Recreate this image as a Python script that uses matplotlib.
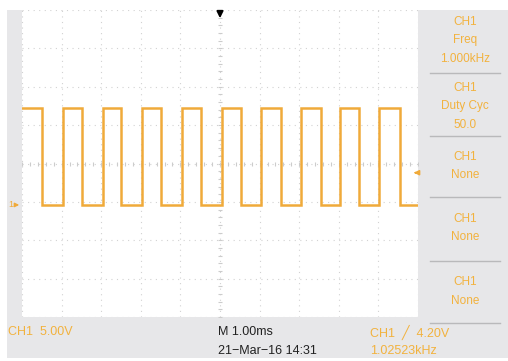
import numpy as np
import matplotlib
matplotlib.use("Agg")
import matplotlib.pyplot as plt

# ---- values ----
rise_ms = [0.0, 1.04, 2.05, 3.03, 4.04, 5.05, 6.04, 7.05, 8.03, 9.02]
fall_ms = [0.51, 1.52, 2.50, 3.51, 4.52, 5.53, 6.54, 7.55, 8.51, 9.55]
high_v = 12.6
low_v = 0.0
trig_v = 4.20
volts_per_div = 5.0
ms_per_div = 1.0
ground_div = -1.08  # ground marker position relative to screen centre

menu_items = [
    ["CH1", "Freq", "1.000kHz"],
    ["CH1", "Duty Cyc", "50.0"],
    ["CH1", "None"],
    ["CH1", "None"],
    ["CH1", "None"],
]
status_left = "CH1  5.00V"
status_mid = ["M 1.00ms", "21\u2212Mar\u221216 14:31"]
status_right = ["CH1  \u2571  4.20V", "1.02523kHz"]

TRACE = "#f0aa3a"
TXT_OR = "#f2b23e"
GRAY = "#e7e7e9"

W, H = 508, 361
fig = plt.figure(figsize=(W / 100, H / 100), dpi=100)
fig.patch.set_facecolor("white")
plt.rcParams["font.family"] = ["Liberation Sans", "DejaVu Sans"]

# background canvas in pixel coordinates
bg = fig.add_axes([0, 0, 1, 1])
bg.set_xlim(0, W)
bg.set_ylim(H, 0)
bg.axis("off")
bg.add_patch(plt.Rectangle((7, 10), W - 7, 348, color=GRAY, lw=0))

# menu panel on the right
sep_y = [73, 136, 197, 261, 323]
for y in sep_y:
    bg.plot([430, 500], [y, y], color="#b9b9bb", lw=1)
tops = [22, 88, 157, 219, 282]
for top, lines in zip(tops, menu_items):
    for k, s in enumerate(lines):
        bg.text(465, top + k * 18.5, s, color=TXT_OR, fontsize=8.5,
                ha="center", va="center")

# status bar
bg.text(8, 332, status_left, color=TXT_OR, fontsize=9, va="center")
bg.text(218, 332, status_mid[0], color="#222222", fontsize=9, va="center")
bg.text(218, 351, status_mid[1], color="#222222", fontsize=9, va="center")
bg.text(370, 332, status_right[0], color=TXT_OR, fontsize=9, va="center")
bg.text(370, 351, status_right[1], color=TXT_OR, fontsize=9, va="center")

# graticule axes
x0, x1, y0, y1 = 22, 418, 10, 317
ax = fig.add_axes([x0 / W, 1 - y1 / H, (x1 - x0) / W, (y1 - y0) / H])
ax.set_facecolor("white")
ax.set_xlim(0, 10 * ms_per_div)
ax.set_ylim(-(4 + ground_div) * volts_per_div, (4 - ground_div) * volts_per_div)
for s in ax.spines.values():
    s.set_visible(False)
ax.set_xticks([])
ax.set_yticks([])

gy = [(d - ground_div) * volts_per_div for d in range(-4, 5)]
for i in range(11):
    ax.axvline(i * ms_per_div, color="#d2d2d2", lw=0.8, ls=(0, (1, 4)))
for v in gy:
    ax.axhline(v, color="#d2d2d2", lw=0.8, ls=(0, (1, 4)))
# centre-line minor ticks
cy = -ground_div * volts_per_div
minor_x = np.arange(0, 10.01, 0.2)
ax.plot(minor_x, [cy] * len(minor_x), ls="none", marker="|", ms=3,
        color="#cccccc", mew=0.8)
minor_y = np.arange(gy[0], gy[-1] + 0.01, 1.0)
ax.plot([5] * len(minor_y), minor_y, ls="none", marker="_", ms=3,
        color="#cccccc", mew=0.8)

# square wave built from the read edge times
t = [0.0]
v = [high_v]
for r, f in zip(rise_ms, fall_ms):
    t += [r, r, f, f]
    v += [low_v, high_v, high_v, low_v]
t = t[2:]
v = v[2:]
t.append(10 * ms_per_div)
v.append(low_v)
ax.plot(t, v, color=TRACE, lw=1.8, solid_joinstyle="miter")

# markers on top of everything
top = fig.add_axes([0, 0, 1, 1])
top.set_xlim(0, W)
top.set_ylim(H, 0)
top.axis("off")
top.patch.set_alpha(0)
gnd_px = y0 + (4 - ground_div) * (y1 - y0) / 8
trig_px = gnd_px - trig_v / volts_per_div * (y1 - y0) / 8
top.text(8, gnd_px, "1", color=TRACE, fontsize=6.5, va="center")
top.annotate("", xy=(22, gnd_px), xytext=(13, gnd_px),
             arrowprops=dict(arrowstyle="-|>", color=TRACE, lw=1,
                             mutation_scale=6))
top.annotate("", xy=(411, trig_px), xytext=(419, trig_px),
             arrowprops=dict(arrowstyle="-|>", color=TRACE, lw=1.2,
                             mutation_scale=7))
top.annotate("", xy=(220, 21), xytext=(220, 10),
             arrowprops=dict(arrowstyle="-|>", color="black", lw=1.5,
                             mutation_scale=9))

fig.savefig("out.png", dpi=100, facecolor=fig.get_facecolor())
